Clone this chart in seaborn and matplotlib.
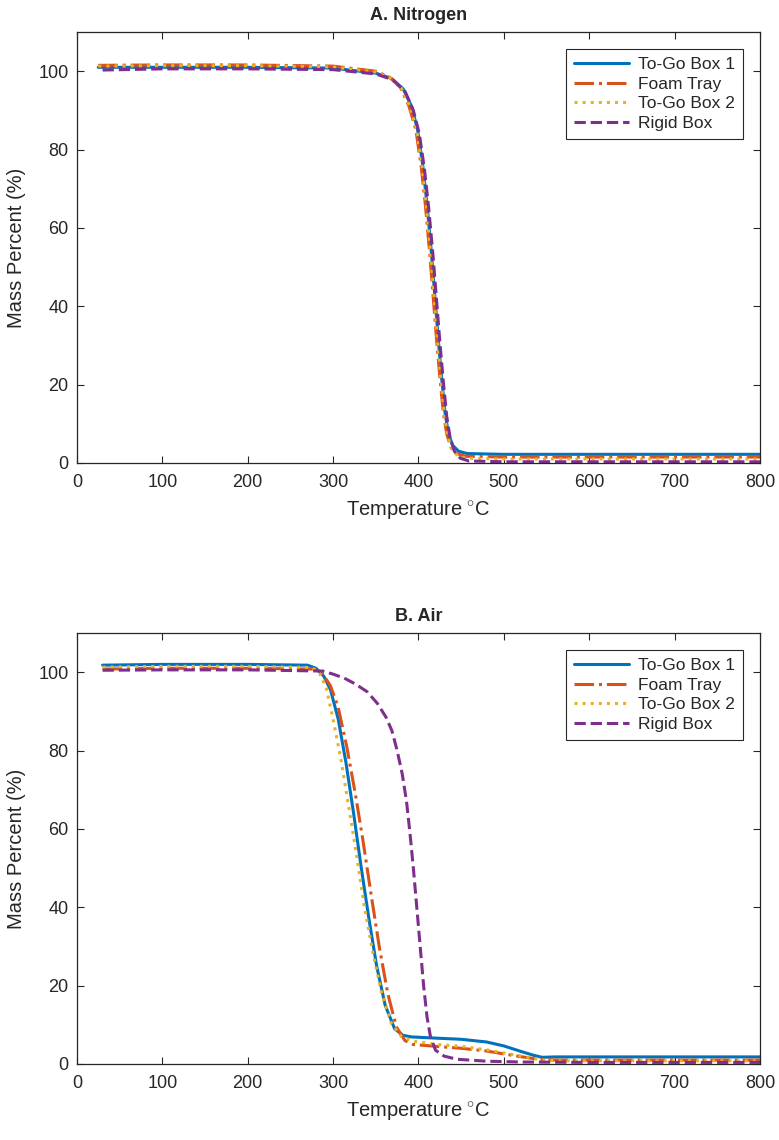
import numpy as np
import pandas as pd
import matplotlib
matplotlib.use("Agg")
import matplotlib.pyplot as plt
import seaborn as sns

# ---------------------------------------------------------------------------
# values (temperature in C, mass percent)
# ---------------------------------------------------------------------------
labels = ['To-Go Box 1', 'Foam Tray', 'To-Go Box 2', 'Rigid Box']
colors = ['#0072BD', '#D95319', '#EDB120', '#7E2F8E']
styles = ['-', '-.', ':', '--']

# A. Nitrogen
n2_t_box1 = [25, 100, 200, 300, 350, 368, 382, 392, 399, 405, 410, 415, 419, 423, 427, 431, 435, 440, 447, 457, 500, 600, 700, 800]
n2_m_box1 = [101.0, 101.0, 101.0, 100.8, 99.5, 98.2, 95.5, 91, 85, 76, 66, 54, 43, 32, 22, 13, 7.5, 4.5, 3.0, 2.4, 2.2, 2.2, 2.2, 2.2]
n2_t_foam = [25, 100, 200, 300, 350, 366, 379, 389, 397, 403, 408, 413, 417, 421, 425, 429, 433, 438, 445, 455, 500, 600, 700, 800]
n2_m_foam = [101.5, 101.6, 101.6, 101.3, 100.0, 98.5, 95.8, 91, 85, 76, 66, 54, 43, 32, 22, 13, 7.5, 4.0, 2.4, 1.7, 1.5, 1.5, 1.5, 1.5]
n2_t_box2 = [25, 100, 200, 300, 350, 367, 380, 390, 398, 404, 409, 414, 418, 422, 426, 430, 434, 439, 446, 456, 500, 600, 700, 800]
n2_m_box2 = [101.3, 101.4, 101.4, 101.1, 99.8, 98.3, 95.6, 91, 85, 76, 66, 54, 43, 32, 22, 13, 7.0, 3.5, 1.8, 1.2, 1.0, 1.0, 1.0, 1.0]
n2_t_rigid = [30, 100, 200, 300, 350, 370, 384, 394, 401, 407, 412, 417, 421, 425, 429, 433, 437, 442, 449, 459, 500, 600, 700, 800]
n2_m_rigid = [100.3, 100.6, 100.6, 100.4, 99.3, 97.8, 95.0, 90, 84, 75, 65, 53, 42, 31, 21, 12, 6.5, 3.0, 1.2, 0.5, 0.3, 0.3, 0.3, 0.3]

# B. Air
air_t_box1 = [30, 100, 200, 270, 280, 289, 297, 306, 315, 324, 333, 342, 351, 361, 372, 382, 392, 420, 450, 480, 500, 520, 535, 545, 560, 700, 800]
air_m_box1 = [101.8, 102.0, 102.0, 101.8, 101.0, 99.0, 95.5, 88, 77, 64, 50, 37, 25, 15, 9.0, 7.3, 6.9, 6.6, 6.3, 5.6, 4.6, 3.2, 2.2, 1.7, 1.8, 1.8, 1.8]
air_t_foam = [30, 100, 200, 278, 288, 297, 306, 316, 326, 335, 344, 354, 364, 374, 384, 393, 420, 450, 480, 510, 540, 560, 700, 800]
air_m_foam = [100.8, 101.0, 101.0, 100.8, 99.5, 96.5, 91, 81, 69, 57, 44, 30, 18, 9.5, 6.0, 5.0, 4.5, 4.0, 3.3, 2.2, 1.2, 1.0, 1.0, 1.0]
air_t_box2 = [30, 100, 200, 275, 284, 292, 300, 309, 318, 327, 336, 346, 357, 368, 380, 394, 420, 450, 480, 510, 545, 560, 700, 800]
air_m_box2 = [101.3, 101.5, 101.5, 101.2, 99.8, 96.0, 88, 78, 66, 54, 41, 29, 18, 10.5, 7.0, 5.8, 5.0, 4.5, 3.6, 2.4, 1.0, 0.8, 0.8, 0.8]
air_t_rigid = [30, 100, 200, 288, 300, 313, 326, 340, 352, 362, 369, 375, 381, 386, 390, 394, 398, 402, 406, 410, 414, 420, 430, 445, 480, 520, 600, 800]
air_m_rigid = [100.5, 100.6, 100.6, 100.3, 99.5, 98.5, 97.0, 95.0, 92.0, 88.5, 85, 80, 74, 67, 59, 50, 40, 30, 20, 12, 7, 3.5, 2.0, 1.2, 0.7, 0.5, 0.4, 0.4]

nitrogen = [(n2_t_box1, n2_m_box1), (n2_t_foam, n2_m_foam), (n2_t_box2, n2_m_box2), (n2_t_rigid, n2_m_rigid)]
air = [(air_t_box1, air_m_box1), (air_t_foam, air_m_foam), (air_t_box2, air_m_box2), (air_t_rigid, air_m_rigid)]

sns.set_style('ticks')
plt.rcParams['font.family'] = ['Liberation Sans', 'DejaVu Sans']
plt.rcParams['mathtext.fontset'] = 'custom'
plt.rcParams['mathtext.rm'] = 'Liberation Sans'

fig = plt.figure(figsize=(7.79, 11.40), dpi=100)
ax1 = fig.add_axes([0.0988, 0.5939, 0.8768, 0.378])
ax2 = fig.add_axes([0.0988, 0.0667, 0.8768, 0.378])

dark = '#262626'


def draw(ax, series, title):
    for (t, m), lab, c, ls in zip(series, labels, colors, styles):
        df = pd.DataFrame({'T': t, 'mass': m})
        sns.lineplot(data=df, x='T', y='mass', ax=ax, color=c, linestyle=ls,
                     linewidth=2.2, label=lab, sort=False, estimator=None)
    ax.set_xlim(0, 800)
    ax.set_ylim(0, 110)
    ax.set_xticks(np.arange(0, 801, 100))
    ax.set_yticks(np.arange(0, 101, 20))
    ax.tick_params(direction='in', top=True, right=True, labelsize=13,
                   colors=dark, length=5, width=0.8)
    ax.tick_params(axis='x', pad=8)
    ax.tick_params(axis='y', pad=6)
    for s in ax.spines.values():
        s.set_color(dark)
        s.set_linewidth(0.9)
    ax.set_title(title, fontsize=13, fontweight='bold', pad=9)
    ax.set_xlabel('Temperature $^{\\circ}$C', fontsize=14.5, color=dark, labelpad=6)
    ax.set_ylabel('Mass Percent (%)', fontsize=14.5, color=dark, labelpad=9)
    leg = ax.legend(loc='upper right', fontsize=12.5, handlelength=3.2,
                    handletextpad=0.5, fancybox=False, framealpha=1,
                    edgecolor=dark, borderaxespad=1.0, labelspacing=0.25,
                    borderpad=0.45)
    leg.get_frame().set_linewidth(0.8)


draw(ax1, nitrogen, 'A. Nitrogen')
draw(ax2, air, 'B. Air')

fig.savefig('out.png', dpi=100)
